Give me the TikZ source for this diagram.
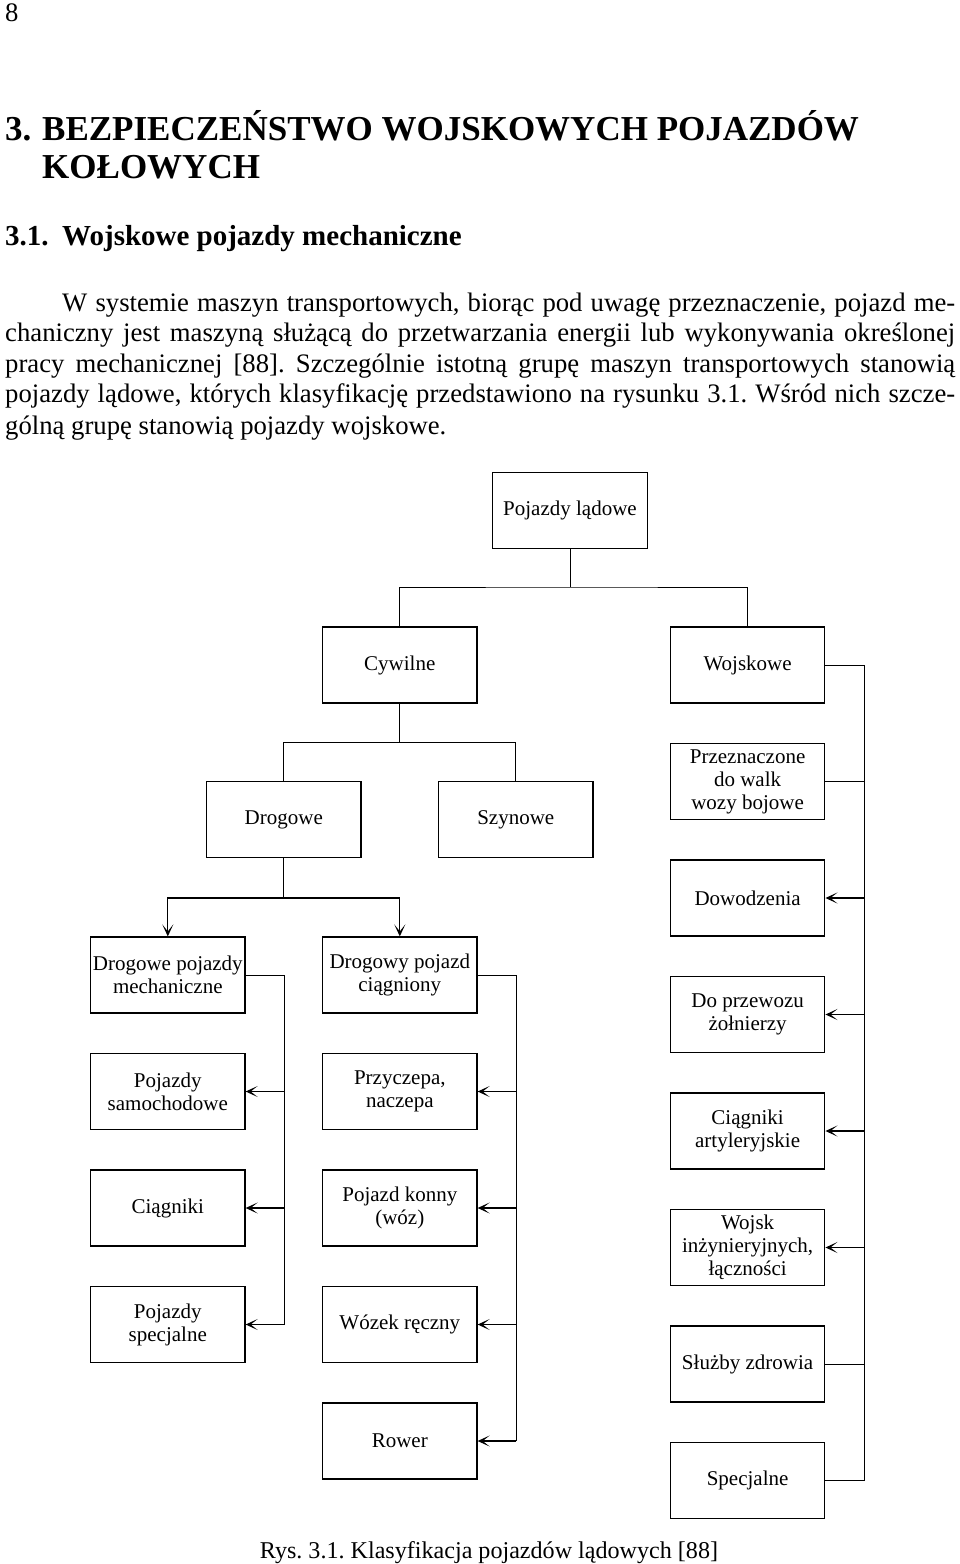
\documentclass[tikz,border=0pt]{standalone}
\usepackage{fontspec}
\setmainfont{Liberation Serif}
\usetikzlibrary{arrows.meta}
\frenchspacing

\begin{document}
\begin{tikzpicture}[x = 1pt, y = -1pt,
    bodytxt/.style = {anchor = base west, inner sep = 0pt, font = \fontsize{26.7}{30}\selectfont},
    headtxt/.style = {anchor = base west, inner sep = 0pt, font = \fontsize{35}{40}\selectfont\bfseries},
    subtxt/.style = {anchor = base west, inner sep = 0pt, font = \fontsize{29}{34}\selectfont\bfseries},
    captxt/.style = {anchor = base, inner sep = 0pt, font = \fontsize{24.1}{28}\selectfont},
    blok/.style = {draw, line width = 1.2pt, minimum width = 154.5pt, minimum height = 76pt, align = center, inner sep = 2pt, font = \fontsize{21}{23}\selectfont},
    conn/.style = {line width = 0.9pt},
    arr/.style = {line width = 1.3pt, -{Stealth[length = 12pt, width = 11pt, inset = 7pt]}},
    ]
    \fill[white] (0,0) rectangle (960,1564);
    \useasboundingbox (0,0) rectangle (960,1564);

    % page text
    \node[bodytxt] (pagenr) at (5,21) {8};
    \node[headtxt] (hnr) at (5,140) {3.};
    \node[headtxt] (hA) at (42,140) {BEZPIECZEŃSTWO WOJSKOWYCH POJAZDÓW};
    \node[headtxt] (hB) at (42,178) {KOŁOWYCH};
    \node[subtxt] (snr) at (5,245) {3.1.};
    \node[subtxt] (sA) at (62,245) {Wojskowe pojazdy mechaniczne};
    \node[bodytxt] (p1) at (62,311) {\makebox[893pt][s]{W systemie maszyn transportowych, biorąc pod uwagę przeznaczenie, pojazd me-}};
    \node[bodytxt] (p2) at (5,341.5) {\makebox[950pt][s]{chaniczny jest maszyną służącą do przetwarzania energii lub wykonywania określonej}};
    \node[bodytxt] (p3) at (5,372) {\makebox[950pt][s]{pracy mechanicznej [88]. Szczególnie istotną grupę maszyn transportowych stanowią}};
    \node[bodytxt] (p4) at (5,402.5) {\makebox[950pt][s]{pojazdy lądowe, których klasyfikację przedstawiono na rysunku 3.1. Wśród nich szcze-}};
    \node[bodytxt] (p5) at (5,434) {gólną grupę stanowią pojazdy wojskowe.};

    % tree
    \node[blok] (lad) at (570,510.5) {Pojazdy lądowe};
    \node[blok] (cyw) at (399.8,665) {Cywilne};
    \node[blok] (woj) at (747.6,665) {Wojskowe};
    \node[blok] (drog) at (283.8,819.5) {Drogowe};
    \node[blok] (szyn) at (515.8,819.5) {Szynowe};
    \node[blok] (dpm) at (167.8,975) {Drogowe pojazdy\\mechaniczne};
    \node[blok] (dpc) at (399.8,975) {Drogowy pojazd\\ciągniony};

    \node[blok] (sam) at (167.8,1091.5) {Pojazdy\\samochodowe};
    \node[blok] (cia) at (167.8,1208) {Ciągniki};
    \node[blok] (spe) at (167.8,1324.5) {Pojazdy\\specjalne};

    \node[blok] (prc) at (399.8,1091.5) {Przyczepa,\\naczepa};
    \node[blok] (kon) at (399.8,1208) {Pojazd konny\\(wóz)};
    \node[blok] (woz) at (399.8,1324.5) {Wózek ręczny};
    \node[blok] (row) at (399.8,1441) {Rower};

    \node[blok] (wal) at (747.6,781.5) {Przeznaczone\\do walk\\wozy bojowe};
    \node[blok] (dow) at (747.6,898) {Dowodzenia};
    \node[blok] (prz) at (747.6,1014.5) {Do przewozu\\żołnierzy};
    \node[blok] (art) at (747.6,1131) {Ciągniki\\artyleryjskie};
    \node[blok] (inz) at (747.6,1247.5) {Wojsk\\inżynieryjnych,\\łączności};
    \node[blok] (zdr) at (747.6,1364) {Służby zdrowia};
    \node[blok] (spc) at (747.6,1480.5) {Specjalne};

    \node[captxt] (rys) at (489,1558) {Rys. 3.1. Klasyfikacja pojazdów lądowych [88]};

    \coordinate (j1) at (570,587);
    \coordinate (j2) at (399.8,742);
    \coordinate (j3) at (283.8,898);
    \coordinate (lx) at (284.6,1324.5);
    \coordinate (mx) at (516.2,1441);
    \coordinate (rx) at (864.2,1480.5);

    \draw[conn] (lad.south) -- (j1);
    \draw[conn] (cyw.north) |- (j1) -| (woj.north);
    \draw[conn] (cyw.south) -- (j2);
    \draw[conn] (drog.north) |- (j2) -| (szyn.north);
    \draw[conn] (drog.south) -- (j3);
    \draw[arr] (j3) -| (dpm.north);
    \draw[arr] (j3) -| (dpc.north);

    \draw[conn] (dpm.east) -| (lx);
    \foreach \n in {sam, cia, spe}
        \draw[arr] (\n.east -| lx) -- (\n.east);
    \draw[conn] (dpc.east) -| (mx);
    \foreach \n in {prc, kon, woz, row}
        \draw[arr] (\n.east -| mx) -- (\n.east);
    \draw[conn] (woj.east) -| (rx) -- (spc.east);
    \foreach \n in {wal, zdr}
        \draw[conn] (\n.east) -- (\n.east -| rx);
    \foreach \n in {dow, prz, art, inz}
        \draw[arr] (\n.east -| rx) -- (\n.east);
\end{tikzpicture}
\end{document}
